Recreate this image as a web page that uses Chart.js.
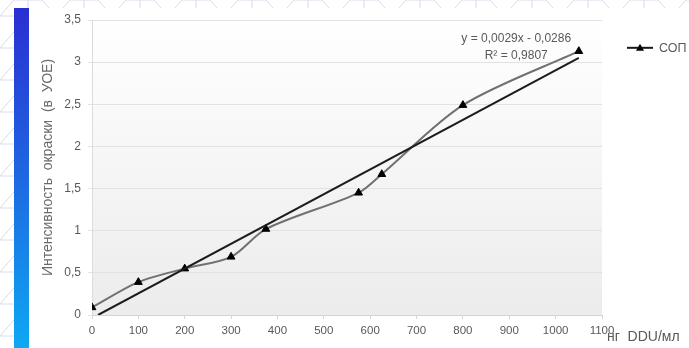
<!DOCTYPE html>
<html>
<head>
<meta charset="utf-8">
<script src="https://cdn.jsdelivr.net/npm/chart.js@4.4.1/dist/chart.umd.min.js"></script>
<style>
  html, body { margin: 0; padding: 0; }
  body {
    width: 689px; height: 348px; position: relative; overflow: hidden;
    background-color: #ffffff;
    background-image: url("data:image/svg+xml;utf8,<svg xmlns='http://www.w3.org/2000/svg' width='56' height='32'><path d='M0 16 L14 0 L42 0 L56 16 M28 0 L28 16 M0 16 L56 16 M14 32 L28 16 L42 32' fill='none' stroke='%23d6dce8' stroke-width='1'/></svg>");
  }
  #panel { position: absolute; left: 29px; top: 8px; right: 0; bottom: 0; background: #ffffff; }
  #bar { position: absolute; left: 14px; top: 8px; width: 15px; bottom: 0;
         background: linear-gradient(to bottom, #2a2fd2 0%, #1f62e0 45%, #0ea8f4 100%); }
  #wrap { position: absolute; left: 0; top: 0; width: 689px; height: 348px; }
</style>
</head>
<body>
<div id="panel"></div>
<div id="bar"></div>
<div id="wrap"><canvas id="c" width="689" height="348"></canvas></div>
<script>
// ---- data ----
const seriesName = 'СОП';
const xValues = [0, 100, 200, 300, 375, 575, 625, 800, 1050];
const yValues = [0.09, 0.39, 0.55, 0.69, 1.02, 1.45, 1.67, 2.49, 3.13];
const trendX = [13, 1050];
const trendY = [0, 3.05];
const yTickLabels = ['0', '0,5', '1', '1,5', '2', '2,5', '3', '3,5'];
const xTickLabels = ['0', '100', '200', '300', '400', '500', '600', '700', '800', '900', '1000', '1100'];
const yTitle = 'Интенсивность  окраски  (в  УОЕ)';
const xTitle = 'нг  DDU/мл';
const equationLines = ['y = 0,0029x - 0,0286', 'R² = 0,9807'];

const TXT = '#595959';
const FONT = '"Liberation Sans", Arial, sans-serif';

const decorPlugin = {
  id: 'decor',
  beforeDraw(chart) {
    const {ctx, chartArea: a} = chart;
    const g = ctx.createLinearGradient(0, a.top, 0, a.bottom);
    g.addColorStop(0, '#ffffff');
    g.addColorStop(1, '#ececec');
    ctx.save();
    ctx.fillStyle = g;
    ctx.fillRect(a.left, a.top, a.right - a.left, a.bottom - a.top);
    ctx.restore();
  },
  afterDraw(chart) {
    const {ctx, chartArea: a, scales} = chart;
    ctx.save();
    ctx.fillStyle = TXT;
    ctx.font = '12px ' + FONT;
    ctx.textAlign = 'center';
    ctx.textBaseline = 'middle';
    // trendline equation
    const ex = scales.x.getPixelForValue(915);
    ctx.fillText(equationLines[0], ex, scales.y.getPixelForValue(3.28));
    ctx.fillText(equationLines[1], ex, scales.y.getPixelForValue(3.08));
    // x axis title at the right end
    ctx.textAlign = 'left';
    ctx.font = '14px ' + FONT;
    ctx.fillText(xTitle, a.right + 5, a.bottom + 22);
    // legend
    const ly = scales.y.getPixelForValue(3.17);
    const lx = a.right + 25;
    ctx.strokeStyle = '#1a1a1a';
    ctx.lineWidth = 2;
    ctx.beginPath(); ctx.moveTo(lx, ly); ctx.lineTo(lx + 26, ly); ctx.stroke();
    ctx.fillStyle = '#000';
    ctx.beginPath();
    ctx.moveTo(lx + 13, ly - 4); ctx.lineTo(lx + 17, ly + 3); ctx.lineTo(lx + 9, ly + 3); ctx.closePath(); ctx.fill();
    ctx.fillStyle = TXT;
    ctx.font = '12.5px ' + FONT;
    ctx.fillText(seriesName, lx + 32, ly + 1);
    ctx.restore();
  }
};

new Chart(document.getElementById('c'), {
  type: 'line',
  data: {
    datasets: [
      {
        label: 'trend',
        data: trendX.map((x, i) => ({x, y: trendY[i]})),
        borderColor: '#1c1c1c',
        borderWidth: 2,
        pointRadius: 0,
        tension: 0,
        order: 0
      },
      {
        label: seriesName,
        data: xValues.map((x, i) => ({x, y: yValues[i]})),
        borderColor: '#707070',
        borderWidth: 2,
        tension: 0.3,
        pointStyle: 'triangle',
        pointRadius: 4.5,
        pointBackgroundColor: '#000',
        pointBorderColor: '#000',
        pointBorderWidth: 1,
        order: 1
      }
    ]
  },
  options: {
    responsive: false,
    animation: false,
    events: [],
    layout: { padding: { left: 36, right: 87, top: 20, bottom: 0 } },
    plugins: { legend: { display: false }, tooltip: { enabled: false } },
    scales: {
      x: {
        type: 'linear', min: 0, max: 1100,
        afterFit(s) { s.height = 33; },
        afterBuildTicks(s) { s.ticks = xTickLabels.map((t, i) => ({value: i * 100})); },
        ticks: {
          color: TXT, font: {family: FONT, size: 11.5}, padding: 5, maxRotation: 0, autoSkip: false,
          callback: (v, i) => xTickLabels[i]
        },
        grid: { drawOnChartArea: false, drawTicks: true, tickLength: 4, color: '#d4d4d4' },
        border: { color: '#d4d4d4' }
      },
      y: {
        type: 'linear', min: 0, max: 3.5,
        afterFit(s) { s.width = 56; },
        afterBuildTicks(s) { s.ticks = yTickLabels.map((t, i) => ({value: i * 0.5})); },
        ticks: {
          color: TXT, font: {family: FONT, size: 12}, padding: 7, autoSkip: false,
          callback: (v, i) => yTickLabels[i]
        },
        grid: { color: '#e2e2e2', lineWidth: 1, drawTicks: true, tickLength: 4 },
        border: { color: '#dcdcdc' },
        title: { display: true, text: yTitle, color: '#6a6a6a', font: {family: FONT, size: 14}, padding: {top: 4, bottom: 0} }
      }
    }
  },
  plugins: [decorPlugin]
});
</script>
</body>
</html>
